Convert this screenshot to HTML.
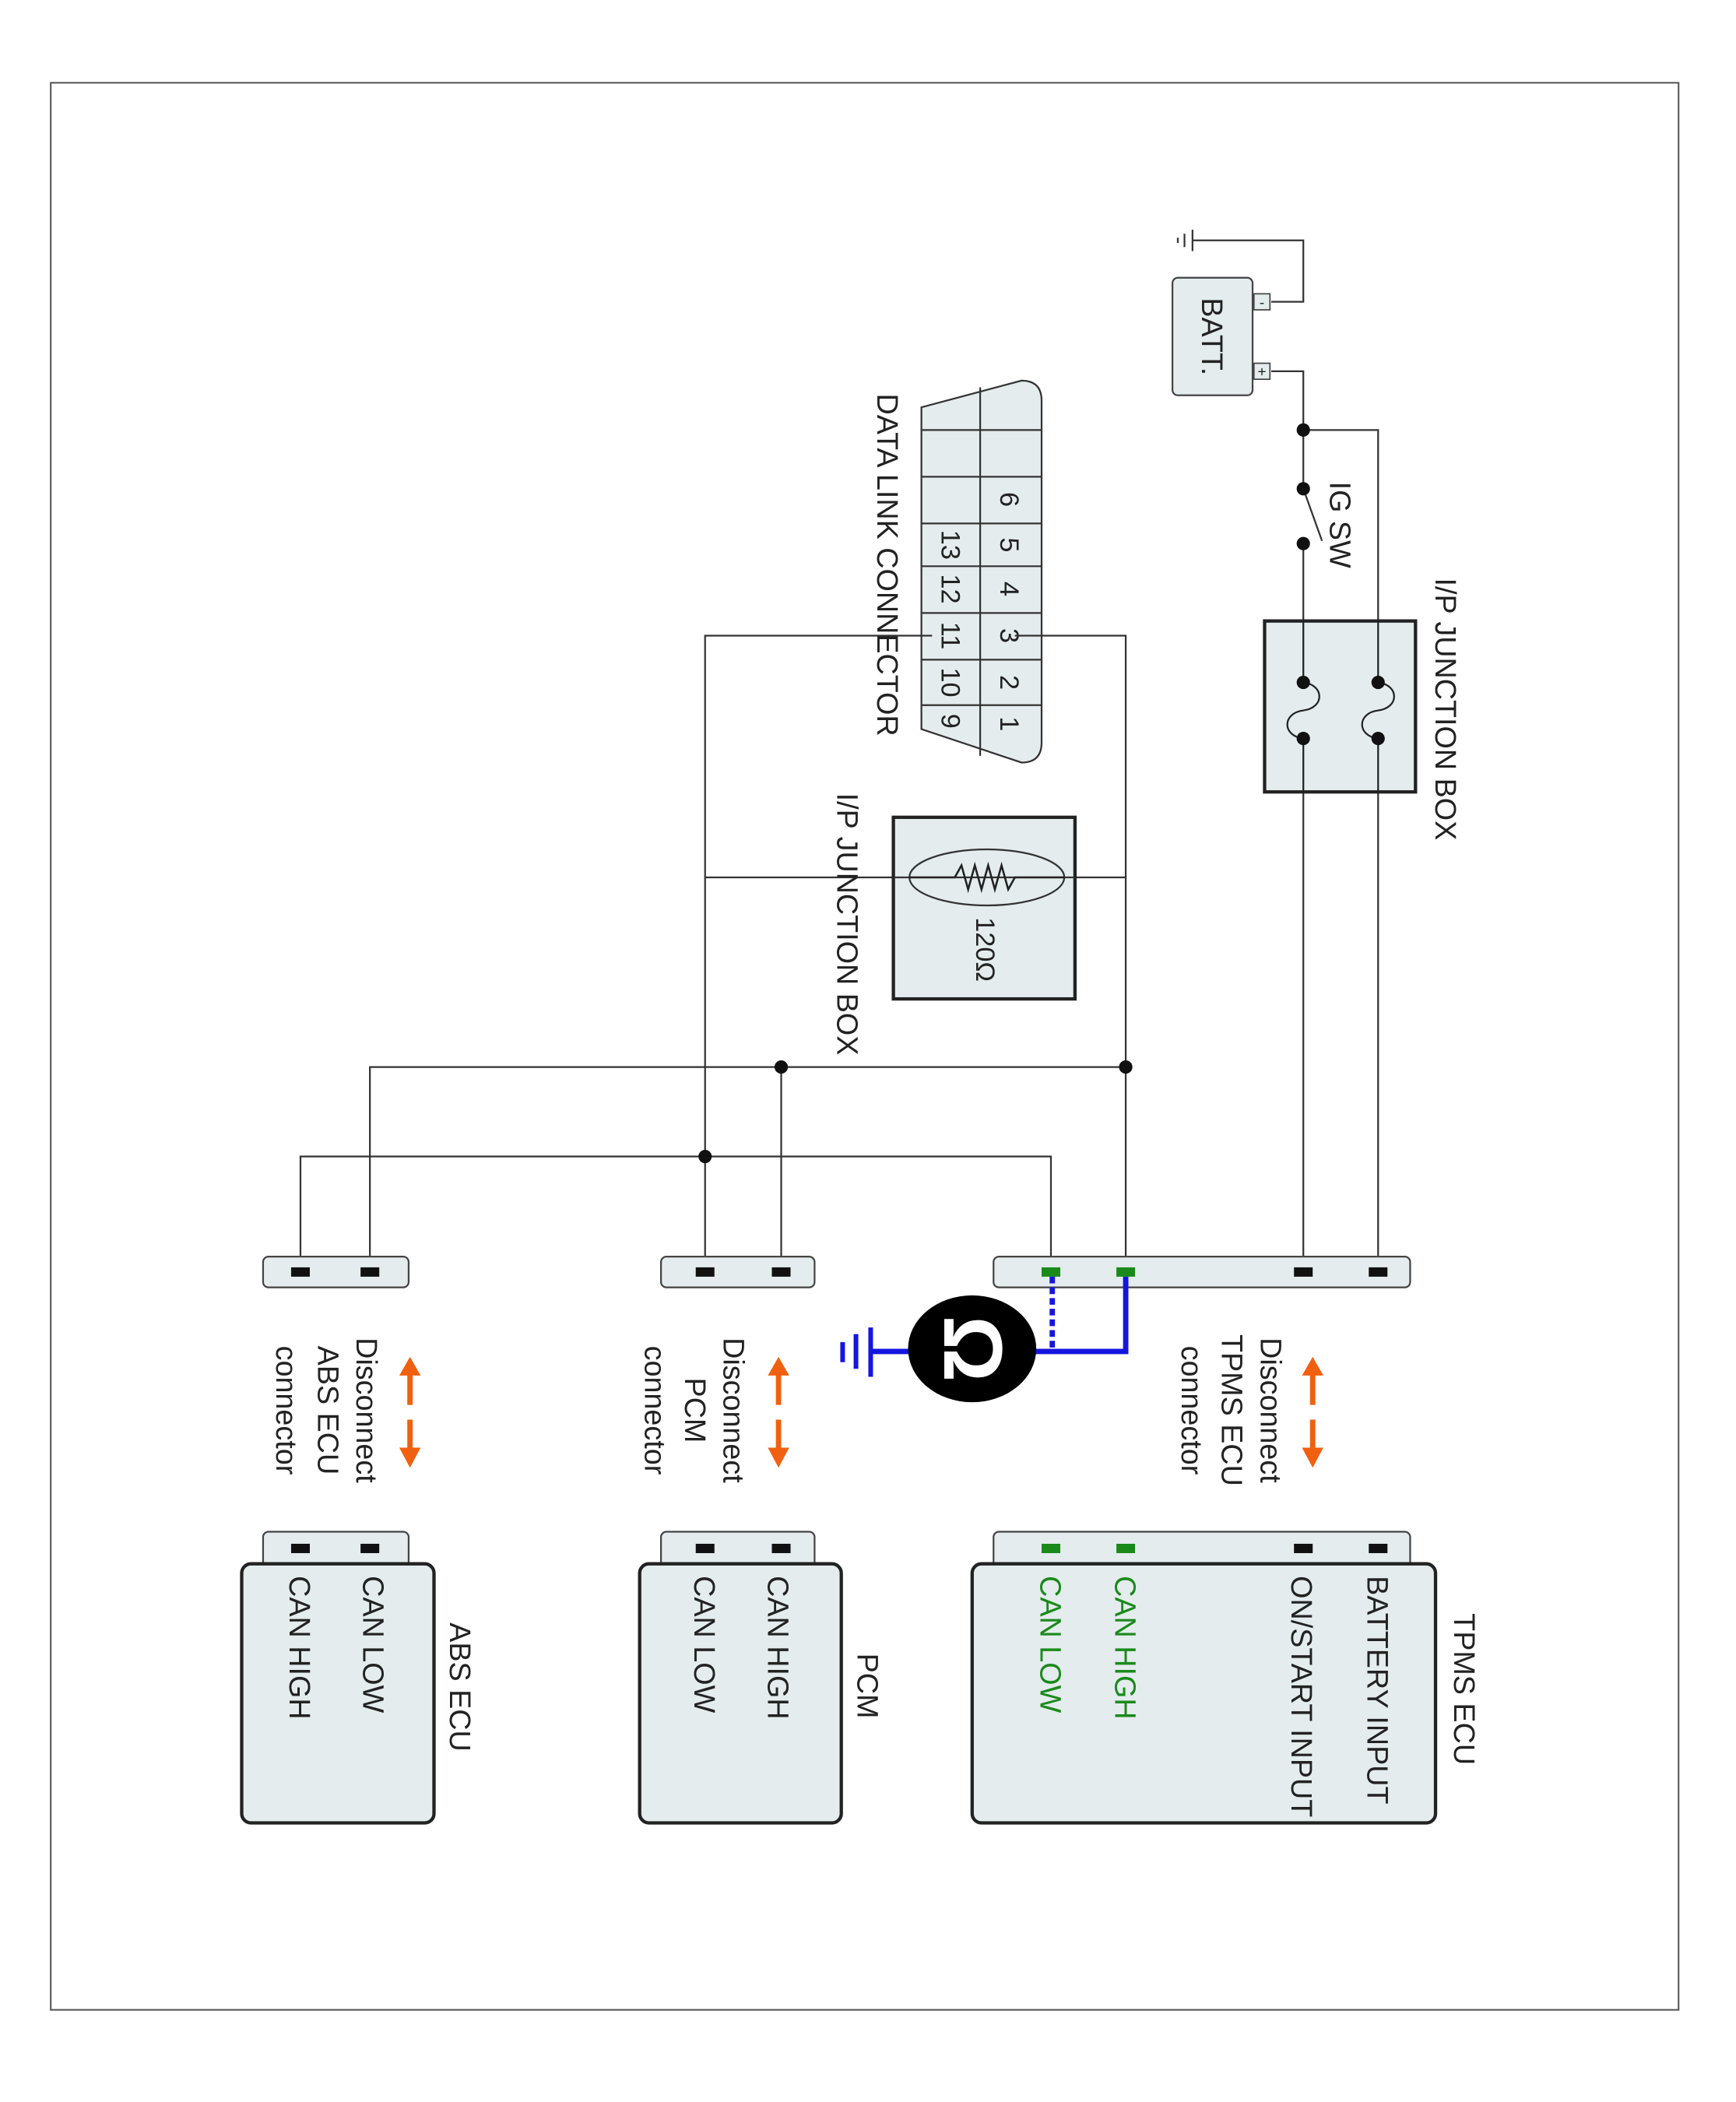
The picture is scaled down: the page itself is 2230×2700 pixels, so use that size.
<!DOCTYPE html>
<html><head><meta charset="utf-8"><style>
html,body{margin:0;padding:0;background:#fff;}
svg{display:block;}
text{font-family:"Liberation Sans",Arial,sans-serif;font-size:22px;fill:#222;}
</style></head><body>
<svg width="2230" height="2700" viewBox="0 0 1300 1574" xmlns="http://www.w3.org/2000/svg">
<rect x="38" y="62" width="1219" height="1443" fill="#fff" stroke="#555" stroke-width="1.2"/>
<g stroke="#333" stroke-width="1.3" fill="none">
<polyline points="893,180 976,180 976,226 952,226"/>
<polyline points="952,278 976,278 976,365"/>
<polyline points="976,322 1032,322 1032,952"/>
<line x1="976" y1="407" x2="976" y2="952"/>
<line x1="976" y1="366" x2="990" y2="405"/>
<line x1="893" y1="172" x2="893" y2="188"/>
<line x1="887" y1="175" x2="887" y2="185"/>
<line x1="882" y1="178" x2="882" y2="182"/>
</g>
<rect x="878" y="208" width="60" height="88" rx="4" fill="#e4ecee" stroke="#444" stroke-width="1.3"/>
<rect x="939" y="220" width="12" height="12" fill="#e4ecee" stroke="#444"/>
<rect x="939" y="272" width="12" height="12" fill="#e4ecee" stroke="#444"/>
<text x="945" y="230" text-anchor="middle" style="font-size:11px">-</text>
<text x="945" y="282" text-anchor="middle" style="font-size:11px">+</text>
<text transform="translate(900,252) rotate(90)" text-anchor="middle">BATT.</text>
<circle cx="976" cy="322" r="5" fill="#111"/>
<circle cx="976" cy="366" r="5" fill="#111"/>
<circle cx="976" cy="407" r="5" fill="#111"/>
<text transform="translate(996,393) rotate(90)" text-anchor="middle">IG SW</text>
<rect x="947" y="465" width="113" height="128" fill="#e4ecee" stroke="#222" stroke-width="2.5"/>
<g stroke="#222" stroke-width="1.3" fill="none">
<line x1="976" y1="465" x2="976" y2="511"/><line x1="976" y1="553" x2="976" y2="593"/>
<line x1="1032" y1="465" x2="1032" y2="511"/><line x1="1032" y1="553" x2="1032" y2="593"/>
<path d="M976,511 C992,513 992,530 976,532 C960,534 960,551 976,553"/>
<path d="M1032,511 C1048,513 1048,530 1032,532 C1016,534 1016,551 1032,553"/>
</g>
<circle cx="976" cy="511" r="5" fill="#111"/><circle cx="976" cy="553" r="5" fill="#111"/>
<circle cx="1032" cy="511" r="5" fill="#111"/><circle cx="1032" cy="553" r="5" fill="#111"/>
<text transform="translate(1075,531) rotate(90)" text-anchor="middle">I/P JUNCTION BOX</text>
<path d="M690,305 L765,285 Q780,285 780,300 L780,556 Q780,571 765,571 L690,546 Z" fill="#e4ecee" stroke="#333" stroke-width="1.3"/>
<g stroke="#333" stroke-width="1.3">
<line x1="734" y1="290" x2="734" y2="566"/>
<line x1="690" y1="322" x2="780" y2="322"/><line x1="690" y1="357" x2="780" y2="357"/>
<line x1="690" y1="392" x2="780" y2="392"/><line x1="690" y1="424" x2="780" y2="424"/>
<line x1="690" y1="459" x2="780" y2="459"/><line x1="690" y1="494" x2="780" y2="494"/>
<line x1="690" y1="528" x2="780" y2="528"/>
</g>
<g>
<text transform="translate(749,374) rotate(90)" text-anchor="middle" style="font-size:20px">6</text>
<text transform="translate(749,408) rotate(90)" text-anchor="middle" style="font-size:20px">5</text>
<text transform="translate(749,441) rotate(90)" text-anchor="middle" style="font-size:20px">4</text>
<text transform="translate(749,476) rotate(90)" text-anchor="middle" style="font-size:20px">3</text>
<text transform="translate(749,511) rotate(90)" text-anchor="middle" style="font-size:20px">2</text>
<text transform="translate(749,542) rotate(90)" text-anchor="middle" style="font-size:20px">1</text>
<text transform="translate(705,408) rotate(90)" text-anchor="middle" style="font-size:20px">13</text>
<text transform="translate(705,441) rotate(90)" text-anchor="middle" style="font-size:20px">12</text>
<text transform="translate(705,476) rotate(90)" text-anchor="middle" style="font-size:20px">11</text>
<text transform="translate(705,511) rotate(90)" text-anchor="middle" style="font-size:20px">10</text>
<text transform="translate(705,540) rotate(90)" text-anchor="middle" style="font-size:20px">9</text>
</g>
<text transform="translate(657,423) rotate(90)" text-anchor="middle">DATA LINK CONNECTOR</text>
<g stroke="#333" stroke-width="1.3" fill="none">
<polyline points="760,476 843,476 843,952"/>
<polyline points="698,476 528,476 528,952"/>
<line x1="528" y1="657" x2="843" y2="657"/>
<polyline points="843,799 277,799 277,952"/>
<line x1="585" y1="799" x2="585" y2="952"/>
<polyline points="787,952 787,866 225,866 225,952"/>
</g>
<rect x="669" y="612" width="136" height="136" fill="#e4ecee" stroke="#222" stroke-width="2.5"/>
<line x1="669" y1="657" x2="805" y2="657" stroke="#333" stroke-width="1.3"/>
<ellipse cx="739" cy="657" rx="58" ry="21" fill="none" stroke="#333" stroke-width="1.3"/>
<polyline points="681,657 715,657 720,648 725,666 730,648 735,666 740,648 745,666 750,648 755,666 760,657 797,657" fill="none" stroke="#222" stroke-width="1.5"/>
<text transform="translate(731,711) rotate(90)" text-anchor="middle" style="font-size:20px">120Ω</text>
<text transform="translate(627,692) rotate(90)" text-anchor="middle">I/P JUNCTION BOX</text>
<circle cx="843" cy="799" r="5" fill="#111"/><circle cx="585" cy="799" r="5" fill="#111"/><circle cx="528" cy="866" r="5" fill="#111"/>
<rect x="744" y="941" width="312" height="23" rx="4" fill="#e4ecee" stroke="#444" stroke-width="1.3"/>
<rect x="495" y="941" width="115" height="23" rx="4" fill="#e4ecee" stroke="#444" stroke-width="1.3"/>
<rect x="197" y="941" width="109" height="23" rx="4" fill="#e4ecee" stroke="#444" stroke-width="1.3"/>
<g fill="#111">
<rect x="969" y="949" width="14" height="7"/><rect x="1025" y="949" width="14" height="7"/>
<rect x="521" y="949" width="14" height="7"/><rect x="578" y="949" width="14" height="7"/>
<rect x="218" y="949" width="14" height="7"/><rect x="270" y="949" width="14" height="7"/>
</g>
<g fill="#1a8a1a"><rect x="780" y="949" width="14" height="7"/><rect x="836" y="949" width="14" height="7"/></g>
<polyline points="843,956 843,1012 775,1012" fill="none" stroke="#1515e0" stroke-width="4"/>
<line x1="788" y1="956" x2="788" y2="1012" stroke="#1515e0" stroke-width="4" stroke-dasharray="5,3"/>
<line x1="682" y1="1012" x2="652" y2="1012" stroke="#1515e0" stroke-width="4"/>
<line x1="652" y1="994" x2="652" y2="1031" stroke="#1515e0" stroke-width="3.5"/>
<line x1="641" y1="999" x2="641" y2="1025" stroke="#1515e0" stroke-width="3.5"/>
<line x1="631" y1="1005" x2="631" y2="1020" stroke="#1515e0" stroke-width="3.5"/>
<ellipse cx="728" cy="1010" rx="48" ry="40" fill="#000"/>
<text transform="translate(707,1010) rotate(90)" text-anchor="middle" style="font-size:62px;font-weight:bold;fill:#fff">Ω</text>
<g fill="#f06010" stroke="#f06010">
<g transform="translate(983,0)"><line x1="0" y1="1026" x2="0" y2="1052" stroke-width="4"/><polygon points="-8,1030 8,1030 0,1016" stroke="none"/><line x1="0" y1="1063" x2="0" y2="1088" stroke-width="4"/><polygon points="-8,1084 8,1084 0,1099" stroke="none"/></g>
<g transform="translate(583,0)"><line x1="0" y1="1026" x2="0" y2="1052" stroke-width="4"/><polygon points="-8,1030 8,1030 0,1016" stroke="none"/><line x1="0" y1="1063" x2="0" y2="1088" stroke-width="4"/><polygon points="-8,1084 8,1084 0,1099" stroke="none"/></g>
<g transform="translate(307,0)"><line x1="0" y1="1026" x2="0" y2="1052" stroke-width="4"/><polygon points="-8,1030 8,1030 0,1016" stroke="none"/><line x1="0" y1="1063" x2="0" y2="1088" stroke-width="4"/><polygon points="-8,1084 8,1084 0,1099" stroke="none"/></g>
</g>
<g text-anchor="middle">
<text transform="translate(944,1056) rotate(90)">Disconnect</text>
<text transform="translate(915,1056) rotate(90)">TPMS ECU</text>
<text transform="translate(885,1056) rotate(90)">connector</text>
<text transform="translate(542,1056) rotate(90)">Disconnect</text>
<text transform="translate(513,1056) rotate(90)">PCM</text>
<text transform="translate(483,1056) rotate(90)">connector</text>
<text transform="translate(267,1056) rotate(90)">Disconnect</text>
<text transform="translate(238,1056) rotate(90)">ABS ECU</text>
<text transform="translate(207,1056) rotate(90)">connector</text>
</g>
<rect x="744" y="1147" width="312" height="30" rx="4" fill="#e4ecee" stroke="#444" stroke-width="1.3"/>
<rect x="495" y="1147" width="115" height="30" rx="4" fill="#e4ecee" stroke="#444" stroke-width="1.3"/>
<rect x="197" y="1147" width="109" height="30" rx="4" fill="#e4ecee" stroke="#444" stroke-width="1.3"/>
<rect x="728" y="1171" width="347" height="194" rx="7" fill="#e4ecee" stroke="#222" stroke-width="2.5"/>
<rect x="479" y="1171" width="151" height="194" rx="7" fill="#e4ecee" stroke="#222" stroke-width="2.5"/>
<rect x="181" y="1171" width="144" height="194" rx="7" fill="#e4ecee" stroke="#222" stroke-width="2.5"/>
<g fill="#111">
<rect x="969" y="1156" width="14" height="7"/><rect x="1025" y="1156" width="14" height="7"/>
<rect x="521" y="1156" width="14" height="7"/><rect x="578" y="1156" width="14" height="7"/>
<rect x="218" y="1156" width="14" height="7"/><rect x="270" y="1156" width="14" height="7"/>
</g>
<g fill="#1a8a1a"><rect x="780" y="1156" width="14" height="7"/><rect x="836" y="1156" width="14" height="7"/></g>
<g>
<text transform="translate(1089,1208) rotate(90)">TPMS ECU</text>
<text transform="translate(1024,1180) rotate(90)">BATTERY INPUT</text>
<text transform="translate(967,1180) rotate(90)">ON/START INPUT</text>
<text transform="translate(835,1180) rotate(90)" style="fill:#1a8a1a">CAN HIGH</text>
<text transform="translate(779,1180) rotate(90)" style="fill:#1a8a1a">CAN LOW</text>
<text transform="translate(642,1238) rotate(90)">PCM</text>
<text transform="translate(575,1180) rotate(90)">CAN HIGH</text>
<text transform="translate(520,1180) rotate(90)">CAN LOW</text>
<text transform="translate(337,1215) rotate(90)">ABS ECU</text>
<text transform="translate(272,1180) rotate(90)">CAN LOW</text>
<text transform="translate(217,1180) rotate(90)">CAN HIGH</text>
</g>
</svg>
</body></html>
